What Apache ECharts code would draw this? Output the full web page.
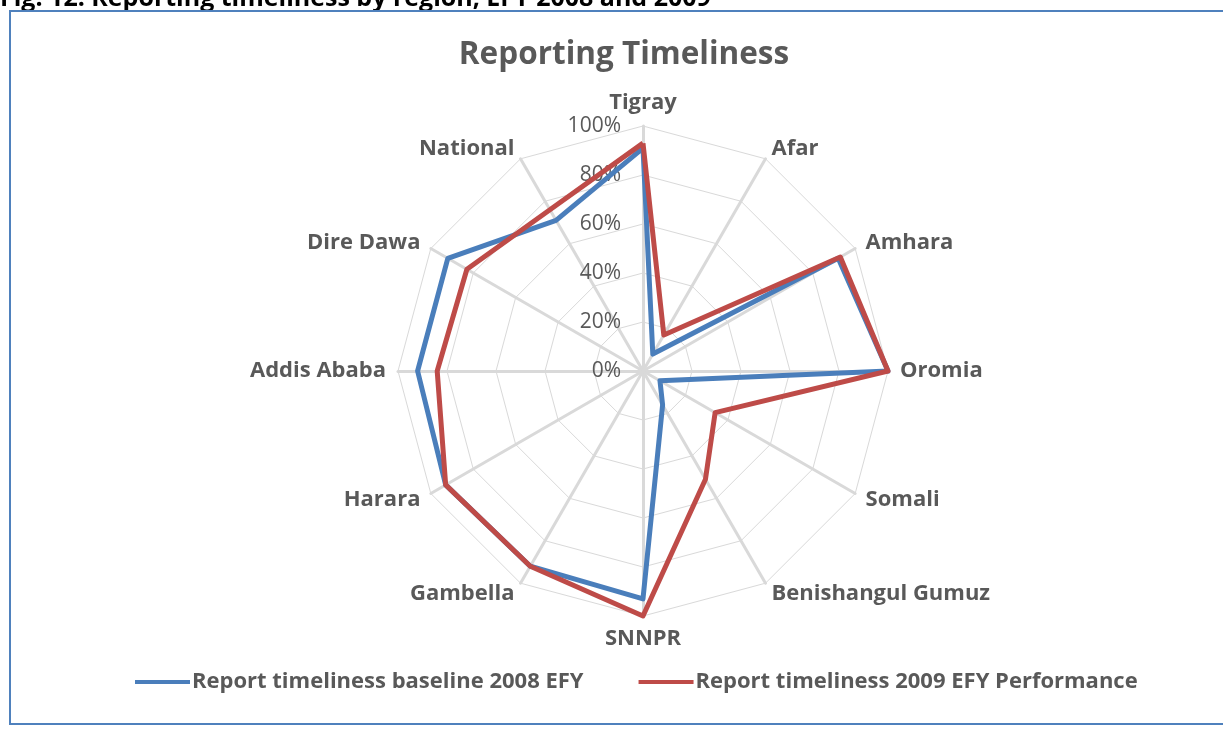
<!DOCTYPE html>
<html>
<head>
<meta charset="utf-8">
<script src="https://cdn.jsdelivr.net/npm/echarts@6/dist/echarts.min.js"></script>
<style>
  html, body { margin: 0; padding: 0; background: #fff; }
  #chart { width: 1223px; height: 735px; }
</style>
</head>
<body>
<div id="chart"></div>
<script>
// regions, clockwise from the top as in the original
let categories = ['Tigray', 'Afar', 'Amhara', 'Oromia', 'Somali', 'Benishangul Gumuz',
  'SNNPR', 'Gambella', 'Harara', 'Addis Ababa', 'Dire Dawa', 'National']
let baseline2008 = [91, 8, 92, 100, 8, 16, 93, 92, 93, 92, 92, 71]
let perf2009 = [93, 17, 93, 100, 34, 51, 100, 92, 93, 84, 83, 76]
let seriesNames = ['Report timeliness baseline 2008 EFY', 'Report timeliness 2009 EFY Performance']

let font = '"Open Sans", Lato, sans-serif'
let grey = '#595959'

// echarts lays radar axes counter-clockwise, so flip everything after the first
function clockwise(arr) {
  return [arr[0]].concat(arr.slice(1).reverse())
}

let indicator = clockwise(categories).map(function (name, i) {
  let ind = { name: name, max: 100, min: 0 }
  if (i === 0) ind.axisLabel = { show: true }
  return ind
})

let chart = echarts.init(document.getElementById('chart'))

let option = {
  animation: false,
  backgroundColor: '#fff',
  title: {
    text: 'Reporting Timeliness',
    left: 619,
    top: 34,
    textAlign: 'center',
    textStyle: { fontFamily: font, fontSize: 31.5, fontWeight: 'bold', color: grey }
  },
  legend: {
    bottom: 37,
    left: 130,
    itemWidth: 55,
    itemHeight: 4,
    itemGap: 55,
    icon: 'rect',
    textStyle: { fontFamily: font, fontSize: 22, fontWeight: 'bold', color: grey, padding: [0, 0, 0, -3] },
    data: seriesNames
  },
  radar: {
    center: [643, 371],
    radius: 245,
    startAngle: 90,
    shape: 'polygon',
    splitNumber: 5,
    indicator: indicator,
    axisName: {
      fontFamily: font,
      fontSize: 22,
      fontWeight: 'bold',
      color: grey
    },
    nameGap: 12,
    axisLine: { lineStyle: { color: '#d9d9d9', width: 3 } },
    splitLine: { lineStyle: { color: '#d9d9d9', width: 1 } },
    splitArea: { show: false },
    axisTick: { show: false },
    axisLabel: {
      show: false,
      fontFamily: font,
      fontSize: 21,
      color: grey,
      margin: 22,
      formatter: function (v) { return v + '%' }
    }
  },
  graphic: [
    {
      type: 'text',
      x: 0,
      y: 11,
      style: {
        text: 'Fig. 12: Reporting timeliness by region, EFY 2008 and 2009',
        font: 'bold 25px ' + font,
        fill: '#000',
        verticalAlign: 'bottom'
      }
    },
    {
      type: 'rect',
      shape: { x: 10, y: 11, width: 1240, height: 713 },
      style: { fill: 'none', stroke: '#4f81bd', lineWidth: 2 },
      silent: true
    }
  ],
  series: [{
    type: 'radar',
    symbol: 'none',
    data: [
      {
        name: seriesNames[0],
        value: clockwise(baseline2008),
        lineStyle: { color: '#4a7ebb', width: 5 },
        itemStyle: { color: '#4a7ebb' }
      },
      {
        name: seriesNames[1],
        value: clockwise(perf2009),
        lineStyle: { color: '#be4b48', width: 5 },
        itemStyle: { color: '#be4b48' }
      }
    ]
  }]
}

chart.setOption(option)
</script>
</body>
</html>
